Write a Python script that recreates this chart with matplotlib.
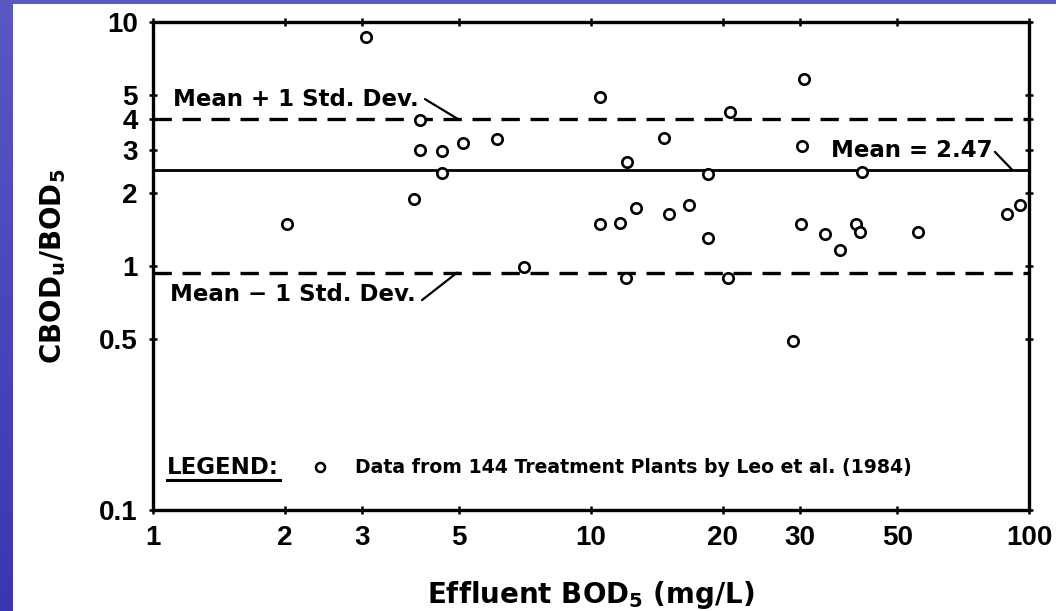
import numpy as np
import matplotlib
matplotlib.use("Agg")
import matplotlib.pyplot as plt
from matplotlib.ticker import FixedLocator, FixedFormatter, NullLocator
from matplotlib.colors import LinearSegmentedColormap

# ---- data ----
effluent_bod5 = [3.07, 2.02, 4.07, 4.06, 4.57, 5.09, 6.10, 4.57, 3.95, 7.04,
                 10.5, 20.8, 14.7, 12.1, 18.5, 12.7, 16.7, 15.1, 10.46, 11.66,
                 18.5, 12.04, 20.6,
                 30.6, 30.4, 41.6, 30.2, 34.3, 40.3, 41.2, 37.1, 55.8, 89.2,
                 95.6, 28.9]
cbod_ratio = [8.65, 1.49, 3.97, 2.99, 2.96, 3.18, 3.30, 2.41, 1.89, 0.99,
              4.95, 4.28, 3.36, 2.68, 2.39, 1.73, 1.78, 1.64, 1.49, 1.50,
              1.30, 0.89, 0.89,
              5.83, 3.10, 2.43, 1.49, 1.35, 1.49, 1.38, 1.16, 1.38, 1.63,
              1.77, 0.494]
mean_ratio = 2.47
std_ratio = 1.53

x_ticks = [1, 2, 3, 5, 10, 20, 30, 50, 100]
x_tick_labels = ["1", "2", "3", "5", "10", "20", "30", "50", "100"]
y_ticks = [0.1, 0.5, 1, 2, 3, 4, 5, 10]
y_tick_labels = ["0.1", "0.5", "1", "2", "3", "4", "5", "10"]

label_plus = "Mean + 1 Std. Dev."
label_minus = "Mean \u2212 1 Std. Dev."
label_mean = "Mean = 2.47"
legend_title = "LEGEND:"
legend_text = "Data from 144 Treatment Plants by Leo et al. (1984)"

# ---- style ----
plt.rcParams['font.family'] = ['DejaVu Sans']
plt.rcParams['font.weight'] = 'bold'
plt.rcParams['axes.labelweight'] = 'bold'
plt.rcParams['mathtext.fontset'] = 'custom'
plt.rcParams['mathtext.rm'] = 'DejaVu Sans:bold'
plt.rcParams['mathtext.it'] = 'DejaVu Sans:bold'
plt.rcParams['mathtext.bf'] = 'DejaVu Sans:bold'
plt.rcParams['mathtext.default'] = 'rm'

W, H = 1056, 611
fig = plt.figure(figsize=(W / 100, H / 100), dpi=100, facecolor='white')

# slide background strips (blue)
grad = np.linspace(0, 1, 256).reshape(-1, 1)
cmap = LinearSegmentedColormap.from_list('slide', ['#5b57c3', '#3a36b2'])
bax = fig.add_axes([0, 0, 13 / W, 1])
bax.imshow(grad, aspect='auto', cmap=cmap, extent=[0, 1, 0, 1])
bax.axis('off')
tax = fig.add_axes([0, 1 - 4 / H, 1, 4 / H])
tax.set_facecolor('#5b57c3')
tax.set_xticks([]); tax.set_yticks([])
for s in tax.spines.values():
    s.set_visible(False)

left, right, top, bottom = 153, 1029, 22, 510
ax = fig.add_axes([left / W, 1 - bottom / H, (right - left) / W, (bottom - top) / H])
ax.set_xscale('log')
ax.set_yscale('log')
ax.set_xlim(1, 100)
ax.set_ylim(0.1, 10)

for s in ax.spines.values():
    s.set_linewidth(2.4)

ax.xaxis.set_major_locator(FixedLocator(x_ticks))
ax.xaxis.set_major_formatter(FixedFormatter(x_tick_labels))
ax.yaxis.set_major_locator(FixedLocator(y_ticks))
ax.yaxis.set_major_formatter(FixedFormatter(y_tick_labels))
ax.xaxis.set_minor_locator(NullLocator())
ax.yaxis.set_minor_locator(NullLocator())
ax.tick_params(which='major', direction='inout', length=6, width=1.8,
               top=True, right=True, pad=8)
for lab in ax.get_xticklabels() + ax.get_yticklabels():
    lab.set_fontfamily('Liberation Sans')
    lab.set_fontweight('bold')
    lab.set_fontsize(20)

# reference lines
ax.axhline(mean_ratio, color='black', lw=2.0, solid_capstyle='butt')
ax.axhline(mean_ratio + std_ratio, color='black', lw=2.4, dashes=(5.5, 3.2))
ax.axhline(mean_ratio - std_ratio, color='black', lw=2.4, dashes=(5.5, 3.2))

# data points
ax.plot(effluent_bod5, cbod_ratio, linestyle='none', marker='o', ms=7.5,
        mfc='white', mec='black', mew=1.9, zorder=5)

# annotations
fs = 16.5
ax.text(0.0228, 0.842, label_plus, transform=ax.transAxes, ha='left', va='center', fontsize=fs)
ax.annotate('', xy=(4.97, mean_ratio + std_ratio), xycoords='data',
            xytext=(0.3105, 0.842), textcoords='axes fraction',
            arrowprops=dict(arrowstyle='-', lw=1.6, color='black', shrinkA=0, shrinkB=0))
ax.text(0.0194, 0.4406, label_minus, transform=ax.transAxes, ha='left', va='center', fontsize=fs)
ax.annotate('', xy=(4.95, mean_ratio - std_ratio), xycoords='data',
            xytext=(0.307, 0.430), textcoords='axes fraction',
            arrowprops=dict(arrowstyle='-', lw=1.6, color='black', shrinkA=0, shrinkB=0))
ax.text(0.9589, 0.7377, label_mean, transform=ax.transAxes, ha='right', va='center', fontsize=fs)
ax.annotate('', xy=(91.7, mean_ratio), xycoords='data',
            xytext=(0.961, 0.734), textcoords='axes fraction',
            arrowprops=dict(arrowstyle='-', lw=1.6, color='black', shrinkA=0, shrinkB=0))

# legend box (in-plot)
ax.text(0.016, 0.0881, legend_title, transform=ax.transAxes, ha='left', va='center', fontsize=fs)
ax.plot([0.016, 0.145], [0.0615, 0.0615], transform=ax.transAxes, color='black', lw=2.2)
ax.plot([0.1906], [0.0881], transform=ax.transAxes, linestyle='none', marker='o', ms=6.5,
        mfc='white', mec='black', mew=1.8)
ax.text(0.2306, 0.0881, legend_text, transform=ax.transAxes, ha='left', va='center', fontsize=13.6)

ax.set_xlabel(r'Effluent BOD$_5$ (mg/L)', fontsize=20, fontweight='bold', labelpad=20)
ax.set_ylabel(r'CBOD$_u$/BOD$_5$', fontsize=20, fontweight='bold', labelpad=22)

fig.savefig('out.png', dpi=100, facecolor='white')
